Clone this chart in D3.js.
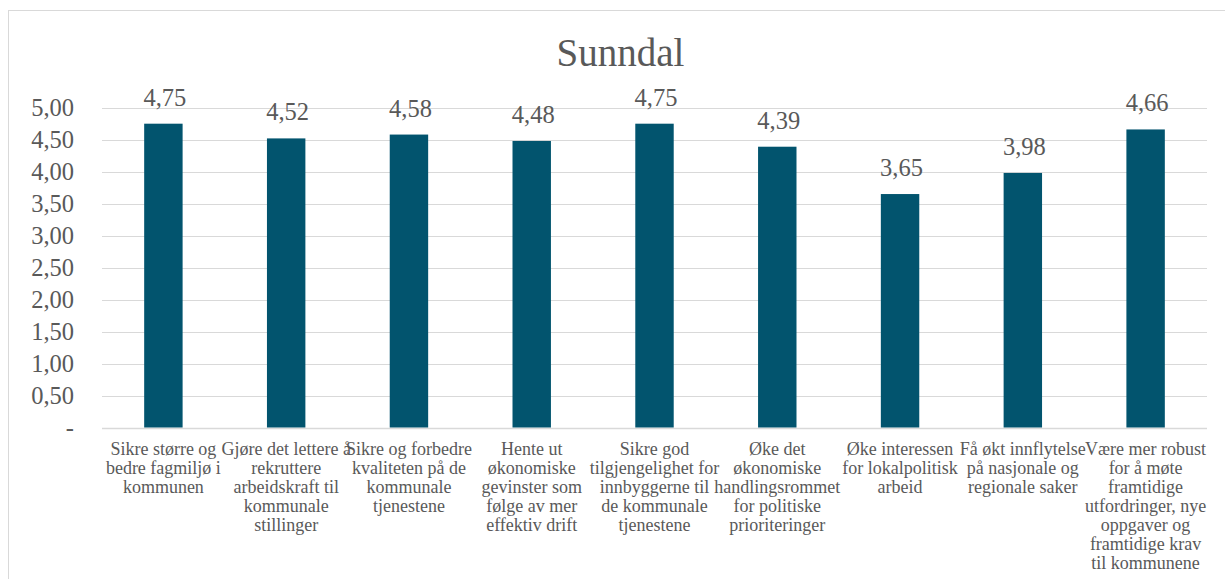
<!DOCTYPE html>
<html>
<head>
<meta charset="utf-8">
<script src="https://cdn.jsdelivr.net/npm/d3@7"></script>
<style>
  html, body { margin: 0; padding: 0; background: #ffffff; }
  svg { display: block; }
</style>
</head>
<body>
<div id="chart"></div>
<script>
const title = "Sunndal";
const categories = [
  "Sikre større og\nbedre fagmiljø i\nkommunen",
  "Gjøre det lettere å\nrekruttere\narbeidskraft til\nkommunale\nstillinger",
  "Sikre og forbedre\nkvaliteten på de\nkommunale\ntjenestene",
  "Hente ut\nøkonomiske\ngevinster som\nfølge av mer\neffektiv drift",
  "Sikre god\ntilgjengelighet for\ninnbyggerne til\nde kommunale\ntjenestene",
  "Øke det\nøkonomiske\nhandlingsrommet\nfor politiske\nprioriteringer",
  "Øke interessen\nfor lokalpolitisk\narbeid",
  "Få økt innflytelse\npå nasjonale og\nregionale saker",
  "Være mer robust\nfor å møte\nframtidige\nutfordringer, nye\noppgaver og\nframtidige krav\ntil kommunene"
];
const values = [4.75, 4.52, 4.58, 4.48, 4.75, 4.39, 3.65, 3.98, 4.66];
const yTicks = [0, 0.5, 1, 1.5, 2, 2.5, 3, 3.5, 4, 4.5, 5];

const W = 1225, H = 579;
const FONT = "'Liberation Serif', 'Times New Roman', serif";
const TEXT = "#595959";
const GRID = "#d9d9d9";
const BAR = "#02546e";

const fmt = v => v === 0 ? "-" : v.toFixed(2).replace(".", ",");

const svg = d3.select("#chart").append("svg")
  .attr("width", W).attr("height", H)
  .style("font-family", FONT);

svg.append("rect").attr("x", 0).attr("y", 0).attr("width", W).attr("height", H).attr("fill", "#fff");
svg.append("rect")
  .attr("x", 8.5).attr("y", 10.5).attr("width", 1240).attr("height", 620)
  .attr("fill", "none").attr("stroke", GRID).attr("stroke-width", 1);

const plot = { left: 102, right: 1207, top: 107.7, bottom: 427.5 };

const x = d3.scaleBand().domain(categories)
  .range([plot.left, plot.right])
  .paddingInner(0.687).paddingOuter(0.3435);
const y = d3.scaleLinear().domain([0, 5]).range([plot.bottom, plot.top]);

// gridlines
svg.append("g").selectAll("line").data(yTicks).join("line")
  .attr("x1", plot.left).attr("x2", plot.right)
  .attr("y1", d => Math.round(y(d)) + 0.5).attr("y2", d => Math.round(y(d)) + 0.5)
  .attr("stroke", GRID).attr("stroke-width", d => d === 0 ? 1.5 : 1);

// y axis
const yAxis = d3.axisLeft(y).tickValues(yTicks).tickFormat(fmt).tickSize(0).tickPadding(0);
const yg = svg.append("g").attr("transform", `translate(74,0)`).call(yAxis);
yg.select(".domain").remove();
yg.selectAll("text")
  .attr("fill", TEXT).attr("font-size", "24.5px").attr("font-family", FONT)
  .attr("dy", null).attr("dominant-baseline", null)
  .attr("y", 8);

// bars
svg.append("g").selectAll("rect").data(values).join("rect")
  .attr("x", (d, i) => x(categories[i]))
  .attr("width", x.bandwidth())
  .attr("y", d => y(d))
  .attr("height", d => y(0) - y(d))
  .attr("fill", BAR);

// data labels
svg.append("g").selectAll("text").data(values).join("text")
  .attr("x", (d, i) => x(categories[i]) + x.bandwidth() / 2 + 1.5)
  .attr("y", d => y(d) - 18)
  .attr("text-anchor", "middle")
  .attr("font-size", "24.5px")
  .attr("fill", TEXT)
  .text(fmt);

// x axis labels
const xg = svg.append("g").selectAll("text").data(categories).join("text")
  .attr("x", d => x(d) + x.bandwidth() / 2)
  .attr("y", 455)
  .attr("text-anchor", "middle")
  .attr("font-size", "18px")
  .attr("fill", TEXT);
xg.each(function(d) {
  const t = d3.select(this);
  d.split("\n").forEach((line, i) => {
    t.append("tspan").attr("x", x(d) + x.bandwidth() / 2).attr("dy", i === 0 ? 0 : 19).text(line);
  });
});

// title
svg.append("text")
  .attr("x", 620.5).attr("y", 66)
  .attr("text-anchor", "middle")
  .attr("font-size", "39px")
  .attr("fill", TEXT)
  .text(title);
</script>
</body>
</html>
